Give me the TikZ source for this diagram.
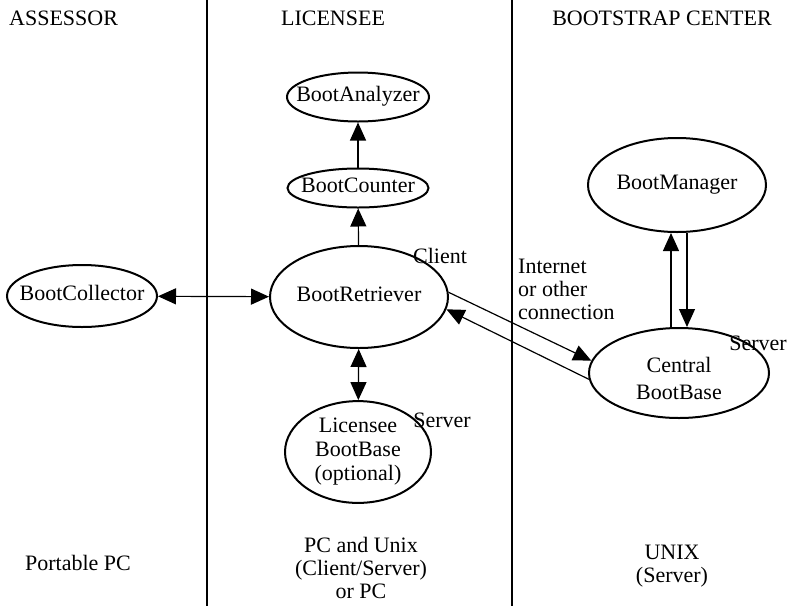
\documentclass[tikz,border=0pt]{standalone}
\usepackage{fontspec}
\setmainfont{Liberation Serif}
\usetikzlibrary{shapes.geometric,arrows.meta,calc}
\newcommand{\ectext}[1]{\makebox[0pt]{\begin{tabular}{@{}c@{}}#1\end{tabular}}}
\newcommand{\ectextlow}[2]{\makebox[0pt]{\raisebox{#1}[0pt][0pt]{\begin{tabular}{@{}c@{}}#2\end{tabular}}}}
\begin{document}
\begin{tikzpicture}[x=1pt,y=-1pt,
  font=\fontsize{22}{23}\selectfont,
  ell/.style={ellipse, draw, line width=2pt, inner sep=0pt},
  txt/.style={inner sep=0pt},
  conn/.style={line width=1.2pt, -{Triangle[length=18pt,width=16pt]}},
  biconn/.style={line width=1.2pt, {Triangle[length=18pt,width=16pt]}-{Triangle[length=18pt,width=16pt]}},
  sep/.style={line width=2pt}]
\useasboundingbox (0,0) rectangle (806,606);

% column separators
\coordinate (s1t) at (207,0);  \coordinate (s1b) at (207,606);
\coordinate (s2t) at (512,0);  \coordinate (s2b) at (512,606);
\draw[sep] (s1t) -- (s1b);
\draw[sep] (s2t) -- (s2b);

% headers
\node[txt, anchor=west] (hA) at (9,18) {ASSESSOR};
\node[txt] (hL) at (333,18) {LICENSEE};
\node[txt] (hB) at (662,18) {BOOTSTRAP CENTER};

% ellipses
\node[ell, minimum width=142pt, minimum height=49pt] (ana) at (358,97) {\ectext{BootAnalyzer}};
\node[ell, minimum width=141pt, minimum height=39pt] (cnt) at (358,188) {\ectext{BootCounter}};
\node[ell, minimum width=178pt, minimum height=102pt] (retr) at (359,297) {\ectext{BootRetriever}};
\node[ell, minimum width=150pt, minimum height=62pt] (coll) at (82,296) {\ectext{BootCollector}};
\node[ell, minimum width=146pt, minimum height=98pt] (lic) at (358,452) {\fontsize{22}{24}\selectfont\ectext{Licensee\\BootBase\\(optional)}};
\node[ell, minimum width=178pt, minimum height=94pt] (mgr) at (677,185) {\ectext{BootManager}};
\node[ell, minimum width=180pt, minimum height=90pt] (cen) at (679,373) {\fontsize{22}{27}\selectfont\ectextlow{-13pt}{Central\\BootBase}};

% labels
\node[txt] (client) at (440,256) {Client};
\node[txt] (srvL) at (442,420) {Server};
\node[txt] (srvC) at (758,343) {Server};
\node[txt, anchor=west, align=left] (inet) at (518,289) {Internet\\or other\\connection};

% bottom texts
\node[txt] (pA) at (78,563) {Portable PC};
\node[txt, align=center] (pL) at (361,568) {PC and Unix\\(Client/Server)\\or PC};
\node[txt, align=center] (pB) at (672,566) {UNIX\\(Server)};

% connectors
\draw[conn] (cnt) -- (ana);
\draw[conn] (retr) -- (cnt);
\draw[biconn] (coll) -- (retr);
\draw[biconn] (retr) -- (lic);
\draw[conn] (retr.3) -- (cen.172);
\draw[conn] (cen.184) -- (retr.-8);
\draw[conn] ([xshift=-8pt]cen.north) -- ([xshift=-6pt]mgr.south);
\draw[conn] ([xshift=10pt]mgr.south) -- ([xshift=8pt]cen.north);
\end{tikzpicture}
\end{document}
